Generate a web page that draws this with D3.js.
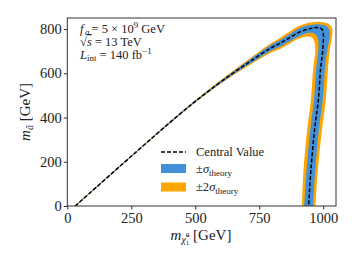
<!DOCTYPE html>
<html>
<head>
<meta charset="utf-8">
<script src="https://cdn.jsdelivr.net/npm/d3@7"></script>
<style>
body { margin: 0; background: #fff; }
svg { font-family: "Liberation Serif", "DejaVu Serif", serif; }
</style>
</head>
<body>
<svg id="chart" width="357" height="268"></svg>
<script>
// values, in GeV: [m_chi, m_a]
var centralValue = [[31,0],[250,225],[435,411],[540,509],[637,592],[715,654],[793,713],[831,735],[860,755],[909,787],[950,802],[974,807],[994,801],[1000,782],[998,700],[990,624],[981,479],[966,343],[952,163],[943,0]];
var sigma1Upper = [[29,0],[250,227],[435,414],[540,513],[637,598],[715,664],[793,726],[831,750],[860,771],[909,805],[950,818],[985,821],[1012,814],[1024,796],[1026,770],[1015,700],[1007,624],[998,479],[983,343],[969,163],[960,0]];
var sigma1Lower = [[33,0],[250,223],[435,408],[540,505],[637,586],[715,644],[793,700],[831,720],[860,739],[909,769],[950,783],[968,777],[978,762],[982,730],[981,700],[973,624],[964,479],[949,343],[935,163],[926,0]];
var sigma2Upper = [[28,0],[250,228],[435,415],[540,515],[637,602],[715,669],[793,734],[831,760],[860,782],[909,816],[950,830],[990,832],[1015,826],[1030,814],[1036,795],[1034,760],[1025,700],[1019,624],[1010,479],[995,343],[979,163],[970,0]];
var sigma2Lower = [[34,0],[250,222],[435,407],[540,503],[637,582],[715,639],[793,692],[831,710],[860,728],[909,758],[940,766],[958,760],[966,740],[969,700],[961,624],[952,479],[937,343],[923,163],[917,0]];

var xTicks = [0, 250, 500, 750, 1000];
var yTicks = [0, 200, 400, 600, 800];
var xDomain = [0, 1050];
var yDomain = [0, 850];

var blue = "#4391d9";
var orange = "#ffa500";

var svg = d3.select("#chart");
var plotLeft = 67.3, plotRight = 336, plotTop = 18, plotBottom = 206;

var x = d3.scaleLinear().domain(xDomain).range([plotLeft, plotRight]);
var y = d3.scaleLinear().domain(yDomain).range([plotBottom, plotTop]);

svg.append("clipPath").attr("id", "clip")
	.append("rect")
	.attr("x", plotLeft).attr("y", plotTop)
	.attr("width", plotRight - plotLeft).attr("height", plotBottom - plotTop);

var line = d3.line()
	.x(function(d) { return x(d[0]); })
	.y(function(d) { return y(d[1]); })
	.curve(d3.curveCatmullRom);

function band(upper, lower)
{
	return line(upper) + "L" + line(lower.slice().reverse()).slice(1) + "Z";
}

var plot = svg.append("g").attr("clip-path", "url(#clip)");

plot.append("path")
	.attr("d", band(sigma2Upper, sigma2Lower))
	.attr("fill", orange);

plot.append("path")
	.attr("d", band(sigma1Upper, sigma1Lower))
	.attr("fill", blue);

plot.append("path")
	.attr("d", line(centralValue))
	.attr("fill", "none")
	.attr("stroke", "#000")
	.attr("stroke-width", 1.5)
	.attr("stroke-dasharray", "4,2");

// axes
var xAxis = svg.append("g")
	.attr("transform", "translate(0," + plotBottom + ")")
	.call(d3.axisBottom(x).tickValues(xTicks).tickFormat(d3.format("d")).tickSize(3.5).tickPadding(3));
var yAxis = svg.append("g")
	.attr("transform", "translate(" + plotLeft + ",0)")
	.call(d3.axisLeft(y).tickValues(yTicks).tickFormat(d3.format("d")).tickSize(3.5).tickPadding(2));

[xAxis, yAxis].forEach(function(a)
{
	a.select(".domain").remove();
	a.selectAll("line").attr("stroke", "#333");
	a.selectAll("text")
		.attr("font-family", "Liberation Serif")
		.attr("font-size", 14.5)
		.attr("fill", "#222");
});

svg.append("rect")
	.attr("x", plotLeft).attr("y", plotTop)
	.attr("width", plotRight - plotLeft).attr("height", plotBottom - plotTop)
	.attr("fill", "none")
	.attr("stroke", "#333")
	.attr("stroke-width", 1);

// axis labels
var xl = svg.append("text")
	.attr("x", 201).attr("y", 240)
	.attr("text-anchor", "middle")
	.attr("font-size", 15)
	.attr("fill", "#222");
xl.append("tspan").attr("font-style", "italic").text("m");
xl.append("tspan").attr("font-style", "italic").attr("font-size", 10).attr("dy", 3).text("\u03C7\u0303");
xl.append("tspan").attr("font-size", 7).attr("dy", 2).text("1");
xl.append("tspan").attr("font-size", 7).attr("dx", -3.5).attr("dy", -8).text("0");
xl.append("tspan").attr("dy", 3).text(" [GeV]");

var yl = svg.append("text")
	.attr("transform", "translate(30,112) rotate(-90)")
	.attr("text-anchor", "middle")
	.attr("font-size", 15)
	.attr("fill", "#222");
yl.append("tspan").attr("font-style", "italic").text("m");
yl.append("tspan").attr("font-style", "italic").attr("font-size", 10).attr("dy", 3).text("\u00E3");
yl.append("tspan").attr("dy", -3).text(" [GeV]");

// info text
var info = svg.append("g").attr("font-size", 12.5).attr("fill", "#222");
var t1 = info.append("text").attr("x", 80).attr("y", 33);
t1.append("tspan").attr("font-style", "italic").text("f");
t1.append("tspan").attr("font-style", "italic").attr("font-size", 9).attr("dx", 1.5).attr("dy", 2).text("a");
t1.append("tspan").attr("dx", 2).attr("dy", -2).text("= 5 \u00D7 10");
t1.append("tspan").attr("font-size", 9).attr("dy", -5).text("9");
t1.append("tspan").attr("dy", 5).text(" GeV");

var t2 = info.append("text").attr("x", 80).attr("y", 46);
t2.append("tspan").text("\u221A");
t2.append("tspan").attr("font-style", "italic").attr("text-decoration", "overline").text("s");
t2.append("tspan").text(" = 13 TeV");

var t3 = info.append("text").attr("x", 80).attr("y", 59);
t3.append("tspan").attr("font-style", "italic").text("L");
t3.append("tspan").attr("font-size", 9).attr("dy", 2).text("int");
t3.append("tspan").attr("dy", -2).text(" = 140 fb");
t3.append("tspan").attr("font-size", 9).attr("dy", -5).text("\u22121");

// legend
var legend = svg.append("g").attr("font-size", 12.5).attr("fill", "#222");
legend.append("line")
	.attr("x1", 161).attr("x2", 186).attr("y1", 152).attr("y2", 152)
	.attr("stroke", "#000").attr("stroke-width", 1.5).attr("stroke-dasharray", "4,2");
legend.append("rect").attr("x", 161).attr("y", 164).attr("width", 25).attr("height", 9).attr("fill", blue);
legend.append("rect").attr("x", 161).attr("y", 182.5).attr("width", 25).attr("height", 9).attr("fill", orange);

legend.append("text").attr("x", 196).attr("y", 156).text("Central Value");

var l1 = legend.append("text").attr("x", 196).attr("y", 173);
l1.append("tspan").text("\u00B1");
l1.append("tspan").attr("font-style", "italic").text("\u03C3");
l1.append("tspan").attr("font-size", 9).attr("dy", 2.5).text("theory");

var l2 = legend.append("text").attr("x", 196).attr("y", 191);
l2.append("tspan").text("\u00B12");
l2.append("tspan").attr("font-style", "italic").text("\u03C3");
l2.append("tspan").attr("font-size", 9).attr("dy", 2.5).text("theory");
</script>
</body>
</html>
